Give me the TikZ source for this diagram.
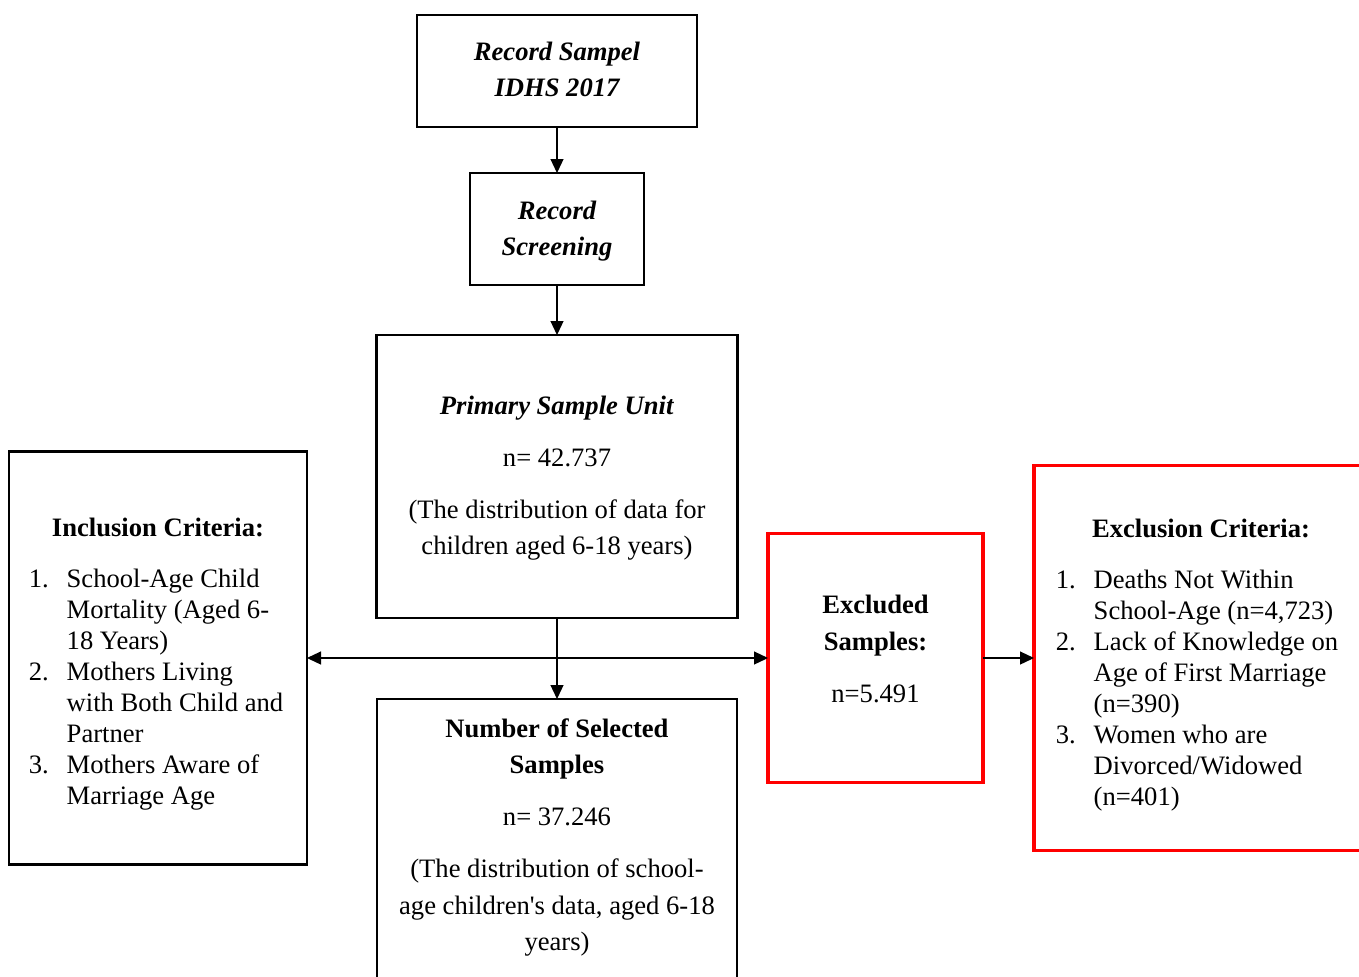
\documentclass[tikz,border=0pt]{standalone}
\usepackage{fontspec}
\setmainfont{Liberation Serif}
\usetikzlibrary{positioning,arrows.meta}

\tikzset{
  box/.style={draw,line width=1.2pt,inner sep=0pt,outer sep=0pt},
  redbox/.style={box,draw=red,line width=1.7pt},
  txt/.style={align=center,inner sep=0pt,anchor=base,yshift=-4.75pt,font=\fontsize{13.3}{18.25}\selectfont},
  listtxt/.style={txt,font=\fontsize{13.3}{15.5}\selectfont},
  headtxt/.style={txt,font=\fontsize{13.3}{18}\selectfont\bfseries\itshape},
}

\begin{document}
\begin{tikzpicture}[x=0.5pt,y=-0.5pt,>={Triangle[length=7pt,width=6.5pt]},line width=0.6pt]
  \useasboundingbox (0,0) rectangle (1359,976);
  \clip (0,0) rectangle (1359,976);

  % main column
  \node[box,minimum width=140pt,minimum height=56pt] (rec) at (557,71) {};
  \node[box,minimum width=87pt,minimum height=56pt,below=23pt of rec] (screen) {};
  \node[box,minimum width=180.5pt,minimum height=141.5pt,below=25pt of screen] (psu) {};
  \coordinate[below=20pt of psu] (split);
  \node[box,minimum width=180pt,minimum height=160pt,below=20.5pt of split] (sel) {};

  % side boxes
  \node[box,minimum width=149pt,minimum height=206.5pt,left=125pt of split] (incl) {};
  \node[redbox,minimum width=107.5pt,minimum height=124.5pt,right=105.5pt of split] (excl) {};
  \node[redbox,minimum width=167pt,minimum height=192.5pt,right=25.5pt of excl] (exclcrit) {};

  % texts (base = last line)
  \node[headtxt] (rectxt) at ([yshift=-36pt]rec.north) {Record Sampel\\IDHS 2017};
  \node[headtxt] (screentxt) at ([yshift=-36.5pt]screen.north) {Record\\Screening};
  \node[txt] (psutxt) at ([yshift=-105pt]psu.north)
    {\textbf{\textit{Primary Sample Unit}}\\[7.75pt]n= 42.737\\[7.75pt]
     (The distribution of data for\\children aged 6-18 years)};
  \node[txt] (seltxt) at ([yshift=-121pt]sel.north)
    {\textbf{Number of Selected}\\\textbf{Samples}\\[7.75pt]n= 37.246\\[7.75pt]
     (The distribution of school-\\age children\textquotesingle s data, aged 6-18\\years)};
  \node[txt] (excltxt) at ([yshift=-79.5pt]excl.north)
    {\textbf{Excluded}\\\textbf{Samples:}\\[7.75pt]n=5.491};
  \node[listtxt] (incltxt) at ([yshift=-63pt]incl.north) {\textbf{Inclusion Criteria:}\\[10pt]
    \begin{tabular}[t]{@{}l@{\hspace{9pt}}l@{}}
      1. & School-Age Child\\ & Mortality (Aged 6-\\ & 18 Years)\\
      2. & Mothers Living\\ & with Both Child and\\ & Partner\\
      3. & Mothers Aware of\\ & Marriage Age
    \end{tabular}\hspace*{2pt}};
  \node[listtxt] (exclcrittxt) at ([yshift=-56.5pt]exclcrit.north) {\textbf{Exclusion Criteria:}\\[10pt]
    \begin{tabular}[t]{@{}l@{\hspace{9pt}}l@{}}
      1. & Deaths Not Within\\ & School-Age (n=4,723)\\
      2. & Lack of Knowledge on\\ & Age of First Marriage\\ & (n=390)\\
      3. & Women who are\\ & Divorced/Widowed\\ & (n=401)
    \end{tabular}\hspace*{4pt}};

  % connectors
  \draw[->] (rec) -- (screen);
  \draw[->] (screen) -- (psu);
  \draw[->] (psu) -- (sel);
  \draw[<->] (incl) -- (excl);
  \draw[->] (excl) -- (exclcrit);
\end{tikzpicture}
\end{document}
